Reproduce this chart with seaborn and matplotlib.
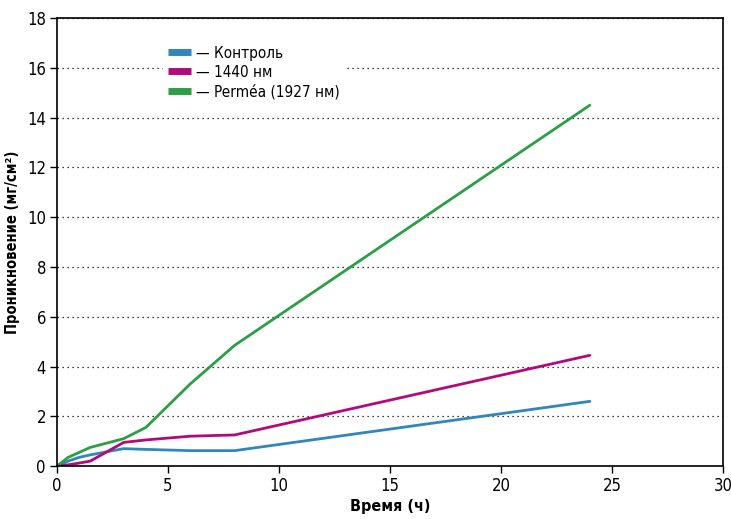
import matplotlib
matplotlib.use("Agg")
import matplotlib.pyplot as plt
import numpy as np
import pandas as pd
import seaborn as sns

# Data
hours = [0, 0.5, 1, 1.5, 3, 4, 6, 8, 24]
control = [0, 0.2, 0.35, 0.45, 0.7, 0.67, 0.62, 0.62, 2.6]
nm1440 = [0, 0.05, 0.12, 0.2, 0.95, 1.05, 1.2, 1.25, 4.45]
permea = [0, 0.35, 0.55, 0.75, 1.1, 1.55, 3.3, 4.85, 14.5]

series_names = ["— Контроль", "— 1440 нм", "— Perméa (1927 нм)"]
colors = ["#2f87bb", "#b3097d", "#2b9f45"]

x_ticks = [0, 5, 10, 15, 20, 25, 30]
y_ticks = [0, 2, 4, 6, 8, 10, 12, 14, 16, 18]

df = pd.DataFrame({
    "hours": hours * 3,
    "value": control + nm1440 + permea,
    "series": [series_names[0]] * len(hours) + [series_names[1]] * len(hours)
              + [series_names[2]] * len(hours),
})

sns.set_style("white")
plt.rcParams["font.family"] = ["Liberation Sans Narrow", "DejaVu Sans"]
plt.rcParams["font.stretch"] = "condensed"
for key in ["text.color", "axes.labelcolor", "xtick.color", "ytick.color"]:
    plt.rcParams[key] = "black"

fig = plt.figure(figsize=(7.31, 5.19), dpi=100)
ax = fig.add_axes([0.078, 0.102, 0.911, 0.863])

sns.lineplot(data=df, x="hours", y="value", hue="series", palette=colors,
             linewidth=2, ax=ax, legend=False)

ax.set_xlim(0, 30)
ax.set_ylim(0, 18)
ax.set_xticks(x_ticks)
ax.set_yticks(y_ticks)
ax.tick_params(axis="both", direction="out", length=5, width=1, color="black",
               labelsize=12, bottom=True, left=True, pad=3)

ax.yaxis.grid(True, linestyle=(0, (1, 3)), color="black", linewidth=0.9)
ax.set_axisbelow(True)
for side in ["left", "bottom", "top", "right"]:
    ax.spines[side].set_color("black")
    ax.spines[side].set_linewidth(1.2)

ax.set_xlabel("Время (ч)", fontsize=11.5, fontweight="bold", labelpad=3)
ax.set_ylabel("Проникновение (мг/см²)", fontsize=10.5, fontweight="bold", labelpad=5)

handles = [plt.Line2D([0], [0], color=c, linewidth=5, solid_capstyle="butt")
           for c in colors]
leg = ax.legend(handles, series_names, loc="upper left", bbox_to_anchor=(0.148, 0.966),
                frameon=True, fontsize=11, handlelength=1.5, handletextpad=0.35,
                labelspacing=0.26, borderpad=0.3, fancybox=False)
leg.get_frame().set_facecolor("white")
leg.get_frame().set_edgecolor("white")
leg.get_frame().set_alpha(1)

fig.savefig("out.png", dpi=100)
